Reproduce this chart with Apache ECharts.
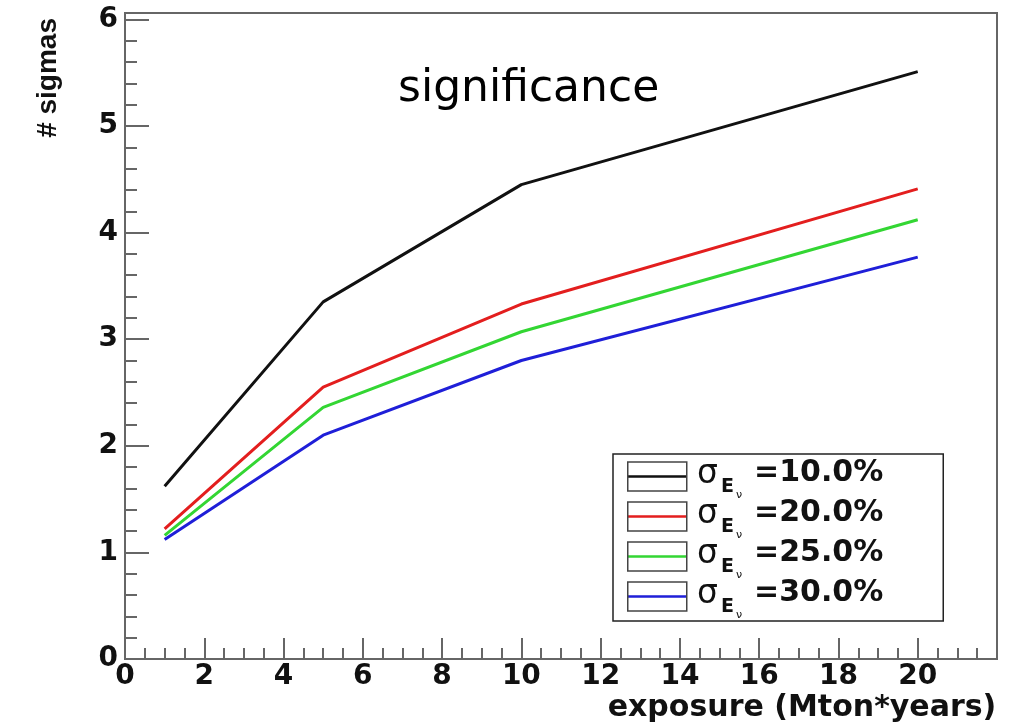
<!DOCTYPE html>
<html><head><meta charset="utf-8">
<script src="https://cdn.jsdelivr.net/npm/echarts@6/dist/echarts.min.js"></script>
<style>html,body{margin:0;padding:0;background:#fff}#c{width:1015px;height:728px}</style>
</head><body><div id="c"></div>
<script>
const exposure = [1, 5, 10, 20];
const sigma10 = [1.62, 3.35, 4.45, 5.51];
const sigma20 = [1.22, 2.55, 3.33, 4.41];
const sigma25 = [1.16, 2.36, 3.07, 4.12];
const sigma30 = [1.12, 2.10, 2.80, 3.77];
const seriesNames = ['10.0%', '20.0%', '25.0%', '30.0%'];
const seriesColors = ['#111111', '#e31e1e', '#33d633', '#1f1fd8'];
const allValues = [sigma10, sigma20, sigma25, sigma30];
const titleText = 'significance';
const xName = 'exposure (Mton*years)';
const yName = '# sigmas';

const chart = echarts.init(document.getElementById('c'), null, {renderer: 'canvas'});

const rich = {
  s: {fontFamily: 'DejaVu Sans', fontSize: 33, lineHeight: 37, verticalAlign: 'top', padding: [0, 0, 0, 6]},
  e: {fontFamily: 'DejaVu Sans', fontWeight: 'bold', fontSize: 19, lineHeight: 19, padding: [20, 0, 0, 3], verticalAlign: 'top'},
  v: {fontFamily: 'DejaVu Sans', fontSize: 11, lineHeight: 11, padding: [32, 0, 0, 2], verticalAlign: 'top'},
  t: {fontFamily: 'DejaVu Sans', fontWeight: 'bold', fontSize: 30, lineHeight: 37, padding: [0, 0, 0, 12], verticalAlign: 'top'}
};
const legendFmt = name => '{s|σ}{e|E}{v|ν}{t|=' + name + '}';
const legendBase = {
  orient: 'vertical', left: 613, top: 454, itemWidth: 59, itemHeight: 29, itemGap: -3,
  padding: [4, 60, 0, 14], selectedMode: false, data: seriesNames, formatter: legendFmt
};

const axisGray = '#666';
const option = {
  animation: false,
  backgroundColor: '#fff',
  title: {
    text: titleText, left: 393, top: 63,
    textStyle: {fontFamily: 'DejaVu Sans', fontWeight: 'normal', fontSize: 44, color: '#000'}
  },
  grid: {left: 125, right: 18, top: 13, bottom: 69, show: true, borderColor: axisGray, borderWidth: 2,
    containLabel: false, outerBoundsMode: 'none'},
  legend: [
    Object.assign({}, legendBase, {
      backgroundColor: '#fff', borderColor: '#222', borderWidth: 1.5,
      icon: 'path://M0,0 L0.05,0 L0,0.05 Z M59,29 L58.95,29 L59,28.95 Z M0,13.3 L59,13.3 L59,15.7 L0,15.7 Z',
      itemStyle: {borderWidth: 0},
      textStyle: {color: '#111', rich: rich}
    }),
    Object.assign({}, legendBase, {
      icon: 'rect',
      itemStyle: {color: 'rgba(0,0,0,0)', borderColor: '#444', borderWidth: 1.5},
      textStyle: {color: 'rgba(0,0,0,0)', rich: rich}
    })
  ],
  xAxis: {
    type: 'value', min: 0, max: 22, interval: 2,
    name: xName, nameLocation: 'middle', nameGap: 34, nameMoveOverlap: false,
    nameTextStyle: {fontFamily: 'DejaVu Sans', fontWeight: 'bold', fontSize: 30, color: '#111',
      align: 'center', verticalAlign: 'top', padding: [0, 0, 0, 482]},
    axisLine: {show: true, lineStyle: {color: axisGray, width: 2}},
    axisTick: {show: true, inside: true, length: 21, lineStyle: {color: axisGray, width: 2}},
    minorTick: {show: true, splitNumber: 4, length: 11, lineStyle: {color: axisGray, width: 2}},
    splitLine: {show: false}, minorSplitLine: {show: false},
    axisLabel: {fontFamily: 'DejaVu Sans', fontWeight: 'bold', fontSize: 28, color: '#111', margin: 4,
      formatter: v => (v > 20 ? '' : String(v))}
  },
  yAxis: [
    {
      type: 'value', min: 0, max: 6.06, interval: 1, position: 'left',
      name: yName, nameLocation: 'end', nameGap: 0, nameRotate: 90, nameMoveOverlap: false,
      nameTextStyle: {fontFamily: 'Liberation Sans', fontWeight: 'bold', fontSize: 28, color: '#111',
        align: 'right', verticalAlign: 'bottom', padding: [0, 5, 63, 0]},
      axisLine: {show: true, lineStyle: {color: axisGray, width: 2}},
      axisTick: {show: true, inside: true, length: 24, lineStyle: {color: axisGray, width: 2}},
      splitLine: {show: false},
      axisLabel: {fontFamily: 'DejaVu Sans', fontWeight: 'bold', fontSize: 28, color: '#111', margin: 7,
        padding: [4, 0, 0, 0],
        formatter: v => (v > 6 ? '' : String(v))}
    },
    {
      type: 'value', min: 0, max: 6.06, interval: 0.2, position: 'left', offset: 0,
      axisLine: {show: false},
      axisTick: {show: true, inside: true, length: 12, lineStyle: {color: axisGray, width: 2}},
      splitLine: {show: false},
      axisLabel: {show: false}
    }
  ],
  series: seriesNames.map((n, i) => ({
    name: n, type: 'line', yAxisIndex: 0, symbol: 'none',
    color: seriesColors[i],
    lineStyle: {color: seriesColors[i], width: 3},
    data: exposure.map((x, j) => [x, allValues[i][j]])
  }))
};
chart.setOption(option);
</script>
</body></html>
